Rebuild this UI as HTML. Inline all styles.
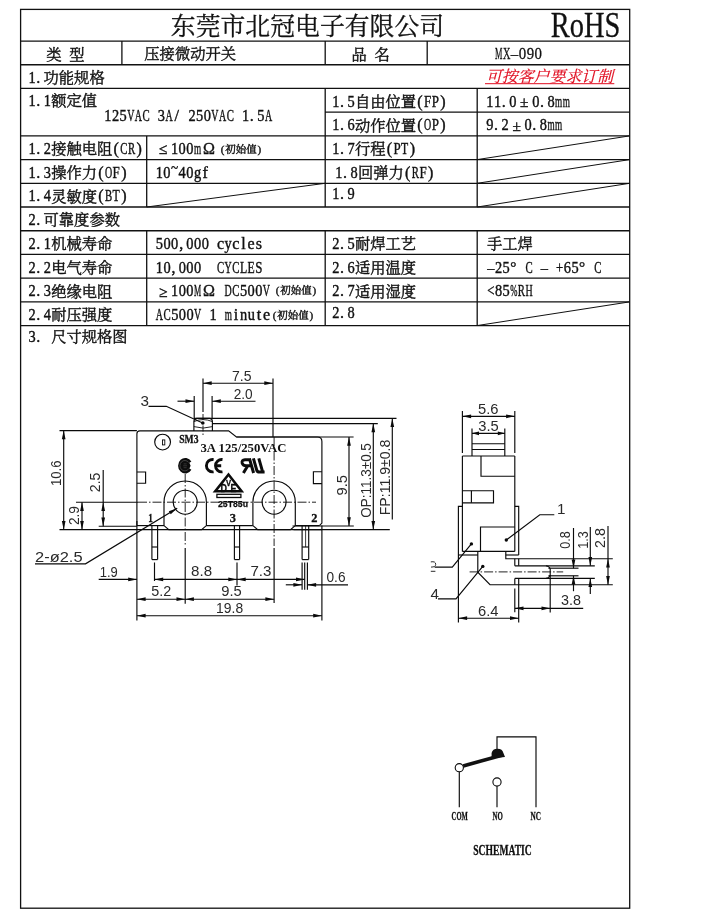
<!DOCTYPE html>
<html lang="zh"><head><meta charset="utf-8"><title>MX-090 压接微动开关 规格书</title>
<style>
html,body{margin:0;padding:0;background:#fff;}
body{width:720px;height:919px;overflow:hidden;font-family:"Liberation Serif",serif;}
svg{will-change:transform;}
svg text{white-space:pre;}
svg text.cjk{font-family:"Liberation Serif","Noto Serif CJK SC",serif;}
</style></head><body>
<svg width="720" height="919" viewBox="0 0 720 919" style="display:block">
<rect x="20.6" y="9.4" width="609.1" height="898.8" fill="none" stroke="#111" stroke-width="1.3"/>
<line x1="20.6" y1="41.05" x2="629.7" y2="41.05" stroke="#111" stroke-width="1.3"/>
<line x1="20.6" y1="64.76" x2="629.7" y2="64.76" stroke="#111" stroke-width="1.3"/>
<line x1="20.6" y1="88.47" x2="629.7" y2="88.47" stroke="#111" stroke-width="1.3"/>
<line x1="325" y1="112.18" x2="629.7" y2="112.18" stroke="#111" stroke-width="1.3"/>
<line x1="20.6" y1="135.89" x2="629.7" y2="135.89" stroke="#111" stroke-width="1.3"/>
<line x1="20.6" y1="159.6" x2="629.7" y2="159.6" stroke="#111" stroke-width="1.3"/>
<line x1="20.6" y1="183.31" x2="629.7" y2="183.31" stroke="#111" stroke-width="1.3"/>
<line x1="20.6" y1="207.02" x2="629.7" y2="207.02" stroke="#111" stroke-width="1.3"/>
<line x1="20.6" y1="230.73" x2="629.7" y2="230.73" stroke="#111" stroke-width="1.3"/>
<line x1="20.6" y1="254.44" x2="629.7" y2="254.44" stroke="#111" stroke-width="1.3"/>
<line x1="20.6" y1="278.15" x2="629.7" y2="278.15" stroke="#111" stroke-width="1.3"/>
<line x1="20.6" y1="301.86" x2="629.7" y2="301.86" stroke="#111" stroke-width="1.3"/>
<line x1="20.6" y1="325.57" x2="629.7" y2="325.57" stroke="#111" stroke-width="1.3"/>
<line x1="121.9" y1="41.05" x2="121.9" y2="64.76" stroke="#111" stroke-width="1.3"/>
<line x1="325.2" y1="41.05" x2="325.2" y2="64.76" stroke="#111" stroke-width="1.3"/>
<line x1="427.2" y1="41.05" x2="427.2" y2="64.76" stroke="#111" stroke-width="1.3"/>
<line x1="325.2" y1="88.47" x2="325.2" y2="207.02" stroke="#111" stroke-width="1.3"/>
<line x1="477.2" y1="88.47" x2="477.2" y2="207.02" stroke="#111" stroke-width="1.3"/>
<line x1="146.7" y1="135.89" x2="146.7" y2="207.02" stroke="#111" stroke-width="1.3"/>
<line x1="325.2" y1="230.73" x2="325.2" y2="325.57" stroke="#111" stroke-width="1.3"/>
<line x1="477.2" y1="230.73" x2="477.2" y2="325.57" stroke="#111" stroke-width="1.3"/>
<line x1="146.7" y1="230.73" x2="146.7" y2="325.57" stroke="#111" stroke-width="1.3"/>
<line x1="146.7" y1="207.02" x2="325.2" y2="183.31" stroke="#111" stroke-width="1.0"/>
<line x1="477.2" y1="159.6" x2="629.7" y2="135.89" stroke="#111" stroke-width="1.0"/>
<line x1="477.2" y1="183.31" x2="629.7" y2="159.6" stroke="#111" stroke-width="1.0"/>
<line x1="477.2" y1="207.02" x2="629.7" y2="183.31" stroke="#111" stroke-width="1.0"/>
<line x1="477.2" y1="325.57" x2="629.7" y2="301.86" stroke="#111" stroke-width="1.0"/>
<g fill="#111" stroke="#111" stroke-width="0.3"><desc>东莞市北冠电子有限公司</desc><text class="cjk" x="170.8" y="34.92" font-size="24.8" letter-spacing="0.05">东莞市北冠电子有限公司</text></g>
<text font-family="Liberation Serif" font-size="36" fill="#111" stroke="#111" stroke-width="0.3" transform="translate(550.8 37.3) scale(0.79 1)">RoHS</text>
<g fill="#111" stroke="#111" stroke-width="0.4"><desc>类 型</desc><text class="cjk" x="46.2 69.15" y="59.72" font-size="15.3">类型</text></g>
<g fill="#111" stroke="#111" stroke-width="0.4"><desc>压接微动开关</desc><text class="cjk" x="144.3" y="59.42" font-size="15.3">压接微动开关</text></g>
<g fill="#111" stroke="#111" stroke-width="0.4"><desc>品 名</desc><text class="cjk" x="351.6 374.55" y="59.72" font-size="15.3">品名</text></g>
<g fill="#111" stroke="#111" stroke-width="0.3"><desc>MX-090</desc><text font-family="Liberation Serif" font-size="16.59" text-anchor="middle" y="59.24"><tspan x="498.75" textLength="7.43" lengthAdjust="spacingAndGlyphs">M</tspan><tspan x="506.65" textLength="7.43" lengthAdjust="spacingAndGlyphs">X</tspan><tspan x="514.55" textLength="7.43" lengthAdjust="spacingAndGlyphs">–</tspan><tspan x="522.45" textLength="7.43" lengthAdjust="spacingAndGlyphs">0</tspan><tspan x="530.35" textLength="7.43" lengthAdjust="spacingAndGlyphs">9</tspan><tspan x="538.25" textLength="7.43" lengthAdjust="spacingAndGlyphs">0</tspan></text></g>
<g fill="#111" stroke="#111" stroke-width="0.4"><desc>1.功能规格</desc><text class="cjk" x="43.5" y="83.13" font-size="15.3">功能规格</text><text font-family="Liberation Serif" font-size="16.07" text-anchor="middle" y="82.82"><tspan x="32.02" textLength="7.19" lengthAdjust="spacingAndGlyphs">1</tspan><tspan x="38.3">.</tspan></text></g>
<g fill="#e00b1e" stroke="#e00b1e" stroke-width="0.2" transform="translate(485.5 83.77) skewX(-14) translate(-485.5 -83.77)"><desc>可按客户要求订制</desc><text class="cjk" x="485.5" y="81.86" font-size="15.9">可按客户要求订制</text></g>
<line x1="485" y1="83.7" x2="614.3" y2="83.7" stroke="#e00b1e" stroke-width="1.0"/>
<g fill="#111" stroke="#111" stroke-width="0.4"><desc>1.1额定值</desc><text class="cjk" x="51.15" y="105.93" font-size="15.3">额定值</text><text font-family="Liberation Serif" font-size="16.07" text-anchor="middle" y="105.63"><tspan x="32.02" textLength="7.19" lengthAdjust="spacingAndGlyphs">1</tspan><tspan x="38.3">.</tspan><tspan x="47.33" textLength="7.19" lengthAdjust="spacingAndGlyphs">1</tspan></text></g>
<g fill="#111" stroke="#111" stroke-width="0.4"><desc>125VAC 3A/ 250VAC 1.5A</desc><text font-family="Liberation Serif" font-size="16.07" text-anchor="middle" y="121.03"><tspan x="107.83" textLength="7.19" lengthAdjust="spacingAndGlyphs">1</tspan><tspan x="115.48" textLength="7.19" lengthAdjust="spacingAndGlyphs">2</tspan><tspan x="123.13" textLength="7.19" lengthAdjust="spacingAndGlyphs">5</tspan><tspan x="130.78" textLength="7.19" lengthAdjust="spacingAndGlyphs">V</tspan><tspan x="138.43" textLength="7.19" lengthAdjust="spacingAndGlyphs">A</tspan><tspan x="146.08" textLength="7.19" lengthAdjust="spacingAndGlyphs">C</tspan><tspan x="161.38" textLength="7.19" lengthAdjust="spacingAndGlyphs">3</tspan><tspan x="169.03" textLength="7.19" lengthAdjust="spacingAndGlyphs">A</tspan><tspan x="176.68">/</tspan><tspan x="191.98" textLength="7.19" lengthAdjust="spacingAndGlyphs">2</tspan><tspan x="199.63" textLength="7.19" lengthAdjust="spacingAndGlyphs">5</tspan><tspan x="207.28" textLength="7.19" lengthAdjust="spacingAndGlyphs">0</tspan><tspan x="214.93" textLength="7.19" lengthAdjust="spacingAndGlyphs">V</tspan><tspan x="222.58" textLength="7.19" lengthAdjust="spacingAndGlyphs">A</tspan><tspan x="230.23" textLength="7.19" lengthAdjust="spacingAndGlyphs">C</tspan><tspan x="245.53" textLength="7.19" lengthAdjust="spacingAndGlyphs">1</tspan><tspan x="251.8">.</tspan><tspan x="260.83" textLength="7.19" lengthAdjust="spacingAndGlyphs">5</tspan><tspan x="268.48" textLength="7.19" lengthAdjust="spacingAndGlyphs">A</tspan></text></g>
<g fill="#111" stroke="#111" stroke-width="0.4"><desc>1.5自由位置(FP)</desc><text class="cjk" x="354.95" y="106.84" font-size="15.3">自由位置</text><text font-family="Liberation Serif" font-size="16.07" text-anchor="middle" y="106.53"><tspan x="335.82" textLength="7.19" lengthAdjust="spacingAndGlyphs">1</tspan><tspan x="342.1">.</tspan><tspan x="351.12" textLength="7.19" lengthAdjust="spacingAndGlyphs">5</tspan><tspan x="419.97">(</tspan><tspan x="427.62" textLength="7.19" lengthAdjust="spacingAndGlyphs">F</tspan><tspan x="435.27" textLength="7.19" lengthAdjust="spacingAndGlyphs">P</tspan><tspan x="442.92">)</tspan></text></g>
<g fill="#111" stroke="#111" stroke-width="0.4"><desc>11.0±0.8mm</desc><text class="cjk" x="524.25" y="106.84" font-size="15.3" text-anchor="middle">±</text><text font-family="Liberation Serif" font-size="16.07" text-anchor="middle" y="106.53"><tspan x="489.82" textLength="7.19" lengthAdjust="spacingAndGlyphs">1</tspan><tspan x="497.47" textLength="7.19" lengthAdjust="spacingAndGlyphs">1</tspan><tspan x="503.75">.</tspan><tspan x="512.77" textLength="7.19" lengthAdjust="spacingAndGlyphs">0</tspan><tspan x="535.72" textLength="7.19" lengthAdjust="spacingAndGlyphs">0</tspan><tspan x="542">.</tspan><tspan x="551.02" textLength="7.19" lengthAdjust="spacingAndGlyphs">8</tspan><tspan x="558.67" textLength="7.19" lengthAdjust="spacingAndGlyphs">m</tspan><tspan x="566.32" textLength="7.19" lengthAdjust="spacingAndGlyphs">m</tspan></text></g>
<g fill="#111" stroke="#111" stroke-width="0.4"><desc>1.6动作位置(OP)</desc><text class="cjk" x="354.95" y="130.55" font-size="15.3">动作位置</text><text font-family="Liberation Serif" font-size="16.07" text-anchor="middle" y="130.24"><tspan x="335.82" textLength="7.19" lengthAdjust="spacingAndGlyphs">1</tspan><tspan x="342.1">.</tspan><tspan x="351.12" textLength="7.19" lengthAdjust="spacingAndGlyphs">6</tspan><tspan x="419.97">(</tspan><tspan x="427.62" textLength="7.19" lengthAdjust="spacingAndGlyphs">O</tspan><tspan x="435.27" textLength="7.19" lengthAdjust="spacingAndGlyphs">P</tspan><tspan x="442.92">)</tspan></text></g>
<g fill="#111" stroke="#111" stroke-width="0.4"><desc>9.2±0.8mm</desc><text class="cjk" x="516.6" y="130.55" font-size="15.3" text-anchor="middle">±</text><text font-family="Liberation Serif" font-size="16.07" text-anchor="middle" y="130.24"><tspan x="489.82" textLength="7.19" lengthAdjust="spacingAndGlyphs">9</tspan><tspan x="496.1">.</tspan><tspan x="505.12" textLength="7.19" lengthAdjust="spacingAndGlyphs">2</tspan><tspan x="528.07" textLength="7.19" lengthAdjust="spacingAndGlyphs">0</tspan><tspan x="534.35">.</tspan><tspan x="543.37" textLength="7.19" lengthAdjust="spacingAndGlyphs">8</tspan><tspan x="551.02" textLength="7.19" lengthAdjust="spacingAndGlyphs">m</tspan><tspan x="558.67" textLength="7.19" lengthAdjust="spacingAndGlyphs">m</tspan></text></g>
<g fill="#111" stroke="#111" stroke-width="0.4"><desc>1.2接触电阻(CR)</desc><text class="cjk" x="51.15" y="154.26" font-size="15.3">接触电阻</text><text font-family="Liberation Serif" font-size="16.07" text-anchor="middle" y="153.95"><tspan x="32.02" textLength="7.19" lengthAdjust="spacingAndGlyphs">1</tspan><tspan x="38.3">.</tspan><tspan x="47.33" textLength="7.19" lengthAdjust="spacingAndGlyphs">2</tspan><tspan x="116.17">(</tspan><tspan x="123.83" textLength="7.19" lengthAdjust="spacingAndGlyphs">C</tspan><tspan x="131.47" textLength="7.19" lengthAdjust="spacingAndGlyphs">R</tspan><tspan x="139.12">)</tspan></text></g>
<g fill="#111" stroke="#111" stroke-width="0.4"><desc>≤100mΩ</desc><text class="cjk" x="163.05" y="154.26" font-size="15.3" text-anchor="middle">≤</text><text font-family="Liberation Serif" font-size="16.07" text-anchor="middle" y="153.95"><tspan x="174.53" textLength="7.19" lengthAdjust="spacingAndGlyphs">1</tspan><tspan x="182.18" textLength="7.19" lengthAdjust="spacingAndGlyphs">0</tspan><tspan x="189.83" textLength="7.19" lengthAdjust="spacingAndGlyphs">0</tspan><tspan x="197.48" textLength="7.19" lengthAdjust="spacingAndGlyphs">m</tspan><tspan x="208.95">Ω</tspan></text></g>
<g fill="#111" stroke="#111" stroke-width="0.4"><desc>(初始值)</desc><text class="cjk" x="225.25" y="153.03" font-size="10.5">初始值</text><text font-family="Liberation Serif" font-size="11.03" text-anchor="middle" y="152.82"><tspan x="222.62 259.38">()</tspan></text></g>
<g fill="#111" stroke="#111" stroke-width="0.4"><desc>1.7行程(PT)</desc><text class="cjk" x="354.95" y="154.26" font-size="15.3">行程</text><text font-family="Liberation Serif" font-size="16.07" text-anchor="middle" y="153.95"><tspan x="335.82" textLength="7.19" lengthAdjust="spacingAndGlyphs">1</tspan><tspan x="342.1">.</tspan><tspan x="351.12" textLength="7.19" lengthAdjust="spacingAndGlyphs">7</tspan><tspan x="389.37">(</tspan><tspan x="397.02" textLength="7.19" lengthAdjust="spacingAndGlyphs">P</tspan><tspan x="404.67" textLength="7.19" lengthAdjust="spacingAndGlyphs">T</tspan><tspan x="412.32">)</tspan></text></g>
<g fill="#111" stroke="#111" stroke-width="0.4"><desc>1.3操作力(OF)</desc><text class="cjk" x="51.15" y="177.97" font-size="15.3">操作力</text><text font-family="Liberation Serif" font-size="16.07" text-anchor="middle" y="177.66"><tspan x="32.02" textLength="7.19" lengthAdjust="spacingAndGlyphs">1</tspan><tspan x="38.3">.</tspan><tspan x="47.33" textLength="7.19" lengthAdjust="spacingAndGlyphs">3</tspan><tspan x="100.88">(</tspan><tspan x="108.53" textLength="7.19" lengthAdjust="spacingAndGlyphs">O</tspan><tspan x="116.18" textLength="7.19" lengthAdjust="spacingAndGlyphs">F</tspan><tspan x="123.83">)</tspan></text></g>
<g fill="#111" stroke="#111" stroke-width="0.4"><desc>10~40gf</desc><text font-family="Liberation Serif" font-size="16.07" text-anchor="middle" y="177.66"><tspan x="159.22" textLength="7.19" lengthAdjust="spacingAndGlyphs">1</tspan><tspan x="166.88" textLength="7.19" lengthAdjust="spacingAndGlyphs">0</tspan><tspan x="174.53" y="172.66" textLength="7.19" lengthAdjust="spacingAndGlyphs">~</tspan><tspan x="182.18" y="177.66" textLength="7.19" lengthAdjust="spacingAndGlyphs">4</tspan><tspan x="189.83" textLength="7.19" lengthAdjust="spacingAndGlyphs">0</tspan><tspan x="197.48" textLength="7.19" lengthAdjust="spacingAndGlyphs">g</tspan><tspan x="205.13">f</tspan></text></g>
<g fill="#111" stroke="#111" stroke-width="0.4"><desc>1.8回弹力(RF)</desc><text class="cjk" x="357.95" y="177.97" font-size="15.3">回弹力</text><text font-family="Liberation Serif" font-size="16.07" text-anchor="middle" y="177.66"><tspan x="338.82" textLength="7.19" lengthAdjust="spacingAndGlyphs">1</tspan><tspan x="345.1">.</tspan><tspan x="354.12" textLength="7.19" lengthAdjust="spacingAndGlyphs">8</tspan><tspan x="407.67">(</tspan><tspan x="415.32" textLength="7.19" lengthAdjust="spacingAndGlyphs">R</tspan><tspan x="422.97" textLength="7.19" lengthAdjust="spacingAndGlyphs">F</tspan><tspan x="430.62">)</tspan></text></g>
<g fill="#111" stroke="#111" stroke-width="0.4"><desc>1.4灵敏度(BT)</desc><text class="cjk" x="51.15" y="201.68" font-size="15.3">灵敏度</text><text font-family="Liberation Serif" font-size="16.07" text-anchor="middle" y="201.37"><tspan x="32.02" textLength="7.19" lengthAdjust="spacingAndGlyphs">1</tspan><tspan x="38.3">.</tspan><tspan x="47.33" textLength="7.19" lengthAdjust="spacingAndGlyphs">4</tspan><tspan x="100.88">(</tspan><tspan x="108.53" textLength="7.19" lengthAdjust="spacingAndGlyphs">B</tspan><tspan x="116.18" textLength="7.19" lengthAdjust="spacingAndGlyphs">T</tspan><tspan x="123.83">)</tspan></text></g>
<g fill="#111" stroke="#111" stroke-width="0.4"><desc>1.9</desc><text font-family="Liberation Serif" font-size="16.07" text-anchor="middle" y="199.37"><tspan x="335.82" textLength="7.19" lengthAdjust="spacingAndGlyphs">1</tspan><tspan x="342.1">.</tspan><tspan x="351.12" textLength="7.19" lengthAdjust="spacingAndGlyphs">9</tspan></text></g>
<g fill="#111" stroke="#111" stroke-width="0.4"><desc>2.可靠度参数</desc><text class="cjk" x="43.5" y="225.39" font-size="15.3">可靠度参数</text><text font-family="Liberation Serif" font-size="16.07" text-anchor="middle" y="225.08"><tspan x="32.02" textLength="7.19" lengthAdjust="spacingAndGlyphs">2</tspan><tspan x="38.3">.</tspan></text></g>
<g fill="#111" stroke="#111" stroke-width="0.4"><desc>2.1机械寿命</desc><text class="cjk" x="51.15" y="249.1" font-size="15.3">机械寿命</text><text font-family="Liberation Serif" font-size="16.07" text-anchor="middle" y="248.79"><tspan x="32.02" textLength="7.19" lengthAdjust="spacingAndGlyphs">2</tspan><tspan x="38.3">.</tspan><tspan x="47.33" textLength="7.19" lengthAdjust="spacingAndGlyphs">1</tspan></text></g>
<g fill="#111" stroke="#111" stroke-width="0.4"><desc>500,000 cycles</desc><text font-family="Liberation Serif" font-size="16.07" text-anchor="middle" y="248.79"><tspan x="159.32" textLength="7.19" lengthAdjust="spacingAndGlyphs">5</tspan><tspan x="166.97" textLength="7.19" lengthAdjust="spacingAndGlyphs">0</tspan><tspan x="174.62" textLength="7.19" lengthAdjust="spacingAndGlyphs">0</tspan><tspan x="181.2">,</tspan><tspan x="189.93" textLength="7.19" lengthAdjust="spacingAndGlyphs">0</tspan><tspan x="197.58" textLength="7.19" lengthAdjust="spacingAndGlyphs">0</tspan><tspan x="205.23" textLength="7.19" lengthAdjust="spacingAndGlyphs">0</tspan><tspan x="220.53">c</tspan><tspan x="228.18" textLength="7.19" lengthAdjust="spacingAndGlyphs">y</tspan><tspan x="235.83 243.48 251.13 258.78">cles</tspan></text></g>
<g fill="#111" stroke="#111" stroke-width="0.4"><desc>2.5耐焊工艺</desc><text class="cjk" x="354.95" y="249.1" font-size="15.3">耐焊工艺</text><text font-family="Liberation Serif" font-size="16.07" text-anchor="middle" y="248.79"><tspan x="335.82" textLength="7.19" lengthAdjust="spacingAndGlyphs">2</tspan><tspan x="342.1">.</tspan><tspan x="351.12" textLength="7.19" lengthAdjust="spacingAndGlyphs">5</tspan></text></g>
<g fill="#111" stroke="#111" stroke-width="0.4"><desc>手工焊</desc><text class="cjk" x="487" y="249.1" font-size="15.3">手工焊</text></g>
<g fill="#111" stroke="#111" stroke-width="0.4"><desc>2.2电气寿命</desc><text class="cjk" x="51.15" y="272.81" font-size="15.3">电气寿命</text><text font-family="Liberation Serif" font-size="16.07" text-anchor="middle" y="272.5"><tspan x="32.02" textLength="7.19" lengthAdjust="spacingAndGlyphs">2</tspan><tspan x="38.3">.</tspan><tspan x="47.33" textLength="7.19" lengthAdjust="spacingAndGlyphs">2</tspan></text></g>
<g fill="#111" stroke="#111" stroke-width="0.4"><desc>10,000  CYCLES</desc><text font-family="Liberation Serif" font-size="16.07" text-anchor="middle" y="272.5"><tspan x="159.32" textLength="7.19" lengthAdjust="spacingAndGlyphs">1</tspan><tspan x="166.97" textLength="7.19" lengthAdjust="spacingAndGlyphs">0</tspan><tspan x="173.55">,</tspan><tspan x="182.28" textLength="7.19" lengthAdjust="spacingAndGlyphs">0</tspan><tspan x="189.93" textLength="7.19" lengthAdjust="spacingAndGlyphs">0</tspan><tspan x="197.58" textLength="7.19" lengthAdjust="spacingAndGlyphs">0</tspan><tspan x="220.53" textLength="7.19" lengthAdjust="spacingAndGlyphs">C</tspan><tspan x="228.18" textLength="7.19" lengthAdjust="spacingAndGlyphs">Y</tspan><tspan x="235.83" textLength="7.19" lengthAdjust="spacingAndGlyphs">C</tspan><tspan x="243.48" textLength="7.19" lengthAdjust="spacingAndGlyphs">L</tspan><tspan x="251.13" textLength="7.19" lengthAdjust="spacingAndGlyphs">E</tspan><tspan x="258.78" textLength="7.19" lengthAdjust="spacingAndGlyphs">S</tspan></text></g>
<g fill="#111" stroke="#111" stroke-width="0.4"><desc>2.6适用温度</desc><text class="cjk" x="354.95" y="272.81" font-size="15.3">适用温度</text><text font-family="Liberation Serif" font-size="16.07" text-anchor="middle" y="272.5"><tspan x="335.82" textLength="7.19" lengthAdjust="spacingAndGlyphs">2</tspan><tspan x="342.1">.</tspan><tspan x="351.12" textLength="7.19" lengthAdjust="spacingAndGlyphs">6</tspan></text></g>
<g fill="#111" stroke="#111" stroke-width="0.4"><desc>-25°C - +65°C</desc><text font-family="Liberation Serif" font-size="16.07" text-anchor="middle" y="272.5"><tspan x="490.82" textLength="7.19" lengthAdjust="spacingAndGlyphs">–</tspan><tspan x="498.47" textLength="7.19" lengthAdjust="spacingAndGlyphs">2</tspan><tspan x="506.12" textLength="7.19" lengthAdjust="spacingAndGlyphs">5</tspan><tspan x="513.32" y="272" font-size="15.27">°</tspan><tspan x="529.07" y="272.5" textLength="7.19" lengthAdjust="spacingAndGlyphs">C</tspan><tspan x="544.37" textLength="7.19" lengthAdjust="spacingAndGlyphs">–</tspan><tspan x="559.67" textLength="7.19" lengthAdjust="spacingAndGlyphs">+</tspan><tspan x="567.32" textLength="7.19" lengthAdjust="spacingAndGlyphs">6</tspan><tspan x="574.97" textLength="7.19" lengthAdjust="spacingAndGlyphs">5</tspan><tspan x="582.17" y="272" font-size="15.27">°</tspan><tspan x="597.92" y="272.5" textLength="7.19" lengthAdjust="spacingAndGlyphs">C</tspan></text></g>
<g fill="#111" stroke="#111" stroke-width="0.4"><desc>2.3绝缘电阻</desc><text class="cjk" x="51.15" y="296.52" font-size="15.3">绝缘电阻</text><text font-family="Liberation Serif" font-size="16.07" text-anchor="middle" y="296.21"><tspan x="32.02" textLength="7.19" lengthAdjust="spacingAndGlyphs">2</tspan><tspan x="38.3">.</tspan><tspan x="47.33" textLength="7.19" lengthAdjust="spacingAndGlyphs">3</tspan></text></g>
<g fill="#111" stroke="#111" stroke-width="0.4"><desc>≥100MΩ DC500V</desc><text class="cjk" x="163.15" y="296.52" font-size="15.3" text-anchor="middle">≥</text><text font-family="Liberation Serif" font-size="16.07" text-anchor="middle" y="296.21"><tspan x="174.62" textLength="7.19" lengthAdjust="spacingAndGlyphs">1</tspan><tspan x="182.28" textLength="7.19" lengthAdjust="spacingAndGlyphs">0</tspan><tspan x="189.93" textLength="7.19" lengthAdjust="spacingAndGlyphs">0</tspan><tspan x="197.58" textLength="7.19" lengthAdjust="spacingAndGlyphs">M</tspan><tspan x="209.05">Ω</tspan><tspan x="228.18" textLength="7.19" lengthAdjust="spacingAndGlyphs">D</tspan><tspan x="235.83" textLength="7.19" lengthAdjust="spacingAndGlyphs">C</tspan><tspan x="243.48" textLength="7.19" lengthAdjust="spacingAndGlyphs">5</tspan><tspan x="251.13" textLength="7.19" lengthAdjust="spacingAndGlyphs">0</tspan><tspan x="258.78" textLength="7.19" lengthAdjust="spacingAndGlyphs">0</tspan><tspan x="266.43" textLength="7.19" lengthAdjust="spacingAndGlyphs">V</tspan></text></g>
<g fill="#111" stroke="#111" stroke-width="0.4"><desc>(初始值)</desc><text class="cjk" x="280.25" y="294.3" font-size="10.5">初始值</text><text font-family="Liberation Serif" font-size="11.03" text-anchor="middle" y="294.08"><tspan x="277.62 314.38">()</tspan></text></g>
<g fill="#111" stroke="#111" stroke-width="0.4"><desc>2.7适用湿度</desc><text class="cjk" x="354.95" y="296.52" font-size="15.3">适用湿度</text><text font-family="Liberation Serif" font-size="16.07" text-anchor="middle" y="296.21"><tspan x="335.82" textLength="7.19" lengthAdjust="spacingAndGlyphs">2</tspan><tspan x="342.1">.</tspan><tspan x="351.12" textLength="7.19" lengthAdjust="spacingAndGlyphs">7</tspan></text></g>
<g fill="#111" stroke="#111" stroke-width="0.4"><desc>&lt;85%RH</desc><text font-family="Liberation Serif" font-size="16.07" text-anchor="middle" y="296.21"><tspan x="490.82" textLength="7.19" lengthAdjust="spacingAndGlyphs">&lt;</tspan><tspan x="498.47" textLength="7.19" lengthAdjust="spacingAndGlyphs">8</tspan><tspan x="506.12" textLength="7.19" lengthAdjust="spacingAndGlyphs">5</tspan><tspan x="513.77" textLength="7.19" lengthAdjust="spacingAndGlyphs">%</tspan><tspan x="521.42" textLength="7.19" lengthAdjust="spacingAndGlyphs">R</tspan><tspan x="529.07" textLength="7.19" lengthAdjust="spacingAndGlyphs">H</tspan></text></g>
<g fill="#111" stroke="#111" stroke-width="0.4"><desc>2.4耐压强度</desc><text class="cjk" x="51.15" y="320.23" font-size="15.3">耐压强度</text><text font-family="Liberation Serif" font-size="16.07" text-anchor="middle" y="319.92"><tspan x="32.02" textLength="7.19" lengthAdjust="spacingAndGlyphs">2</tspan><tspan x="38.3">.</tspan><tspan x="47.33" textLength="7.19" lengthAdjust="spacingAndGlyphs">4</tspan></text></g>
<g fill="#111" stroke="#111" stroke-width="0.4"><desc>AC500V 1 minute</desc><text font-family="Liberation Serif" font-size="16.07" text-anchor="middle" y="319.92"><tspan x="159.42" textLength="7.19" lengthAdjust="spacingAndGlyphs">A</tspan><tspan x="167.07" textLength="7.19" lengthAdjust="spacingAndGlyphs">C</tspan><tspan x="174.72" textLength="7.19" lengthAdjust="spacingAndGlyphs">5</tspan><tspan x="182.38" textLength="7.19" lengthAdjust="spacingAndGlyphs">0</tspan><tspan x="190.03" textLength="7.19" lengthAdjust="spacingAndGlyphs">0</tspan><tspan x="197.68" textLength="7.19" lengthAdjust="spacingAndGlyphs">V</tspan><tspan x="212.98" textLength="7.19" lengthAdjust="spacingAndGlyphs">1</tspan><tspan x="228.28" textLength="7.19" lengthAdjust="spacingAndGlyphs">m</tspan><tspan x="235.93">i</tspan><tspan x="243.58" textLength="7.19" lengthAdjust="spacingAndGlyphs">n</tspan><tspan x="251.23" textLength="7.19" lengthAdjust="spacingAndGlyphs">u</tspan><tspan x="258.88 266.53">te</tspan></text></g>
<g fill="#111" stroke="#111" stroke-width="0.4"><desc>(初始值)</desc><text class="cjk" x="277.25" y="319.01" font-size="10.5">初始值</text><text font-family="Liberation Serif" font-size="11.03" text-anchor="middle" y="318.8"><tspan x="274.62 311.38">()</tspan></text></g>
<g fill="#111" stroke="#111" stroke-width="0.4"><desc>2.8</desc><text font-family="Liberation Serif" font-size="16.07" text-anchor="middle" y="317.92"><tspan x="335.82" textLength="7.19" lengthAdjust="spacingAndGlyphs">2</tspan><tspan x="342.1">.</tspan><tspan x="351.12" textLength="7.19" lengthAdjust="spacingAndGlyphs">8</tspan></text></g>
<g fill="#111" stroke="#111" stroke-width="0.4"><desc>3. 尺寸规格图</desc><text class="cjk" x="51.15" y="341.86" font-size="15.3">尺寸规格图</text><text font-family="Liberation Serif" font-size="16.07" text-anchor="middle" y="341.56"><tspan x="32.02" textLength="7.19" lengthAdjust="spacingAndGlyphs">3</tspan><tspan x="38.3">.</tspan></text></g>
<path d="M136.9 525.6 L136.9 433.8 Q136.9 430.8 139.9 430.8 L228.6 430.8 L236.4 437.0 L317.4 437.0 Q321.9 437.0 321.9 441.5 L321.9 523.1 L319.4 525.6" fill="none" stroke="#0a0a0a" stroke-width="1.15"/>
<line x1="136.9" y1="525.6" x2="164" y2="525.6" stroke="#0a0a0a" stroke-width="1.15"/>
<line x1="206.4" y1="525.6" x2="252.8" y2="525.6" stroke="#0a0a0a" stroke-width="1.15"/>
<line x1="295.3" y1="525.6" x2="319.4" y2="525.6" stroke="#0a0a0a" stroke-width="1.15"/>
<path d="M136.9 472 L145.6 472 L145.6 483.2 L136.9 483.2" fill="none" stroke="#0a0a0a" stroke-width="1.15"/>
<path d="M321.9 471.7 L313.4 471.7 L313.4 483.6 L321.9 483.6" fill="none" stroke="#0a0a0a" stroke-width="1.15"/>
<path d="M164 525.6 L164 502.2 A21.2 21.2 0 0 1 206.4 502.2 L206.4 525.6 L201.6 529.6 L168.8 529.6 Z" fill="none" stroke="#0a0a0a" stroke-width="1.15"/>
<circle cx="185.2" cy="502.2" r="12" fill="none" stroke="#0a0a0a" stroke-width="1.15"/>
<path d="M252.9 525.6 L252.9 502.2 A21.2 21.2 0 0 1 295.3 502.2 L295.3 525.6 L290.5 529.6 L257.7 529.6 Z" fill="none" stroke="#0a0a0a" stroke-width="1.15"/>
<circle cx="274.1" cy="502.2" r="12" fill="none" stroke="#0a0a0a" stroke-width="1.15"/>
<circle cx="162.6" cy="442.1" r="7.9" fill="none" stroke="#0a0a0a" stroke-width="1.15"/>
<rect x="162.5" y="439.9" width="2.3" height="5" fill="none" stroke="#0a0a0a" stroke-width="0.9"/>
<path d="M193.9 431 L193.9 421.5 Q193.9 418.6 197 418.4 L209.5 418.4 Q212.4 418.6 212.4 421.5 L212.4 431" fill="none" stroke="#0a0a0a" stroke-width="1.15"/>
<path d="M193.9 421.6 Q203 417.5 212.4 421.6" fill="none" stroke="#0a0a0a" stroke-width="0.9"/>
<path d="M193.9 426.6 Q203 429.6 212.4 426.6" fill="none" stroke="#0a0a0a" stroke-width="0.9"/>
<line x1="194" y1="418.4" x2="396.5" y2="418.4" stroke="#0a0a0a" stroke-width="1.15"/>
<line x1="212.4" y1="423.6" x2="377.8" y2="423.6" stroke="#0a0a0a" stroke-width="1.15"/>
<line x1="236.4" y1="437" x2="353.6" y2="437" stroke="#0a0a0a" stroke-width="1.15"/>
<line x1="76" y1="502.2" x2="138" y2="502.2" stroke="#0a0a0a" stroke-width="1.15"/>
<line x1="138" y1="502.2" x2="316" y2="502.2" stroke="#0a0a0a" stroke-width="0.9" stroke-dasharray="9 2 1.5 2"/>
<line x1="185.2" y1="474" x2="185.2" y2="546" stroke="#0a0a0a" stroke-width="0.9" stroke-dasharray="9 2 1.5 2"/>
<line x1="185.2" y1="548" x2="185.2" y2="603.8" stroke="#0a0a0a" stroke-width="1.15"/>
<line x1="274.1" y1="437" x2="274.1" y2="546" stroke="#0a0a0a" stroke-width="0.9" stroke-dasharray="9 2 1.5 2"/>
<line x1="274.1" y1="548" x2="274.1" y2="603" stroke="#0a0a0a" stroke-width="1.15"/>
<line x1="203" y1="378.5" x2="203" y2="412" stroke="#0a0a0a" stroke-width="1.15"/>
<line x1="203" y1="414" x2="203" y2="437" stroke="#0a0a0a" stroke-width="0.9" stroke-dasharray="6 2 1.5 2"/>
<line x1="273" y1="378.5" x2="273" y2="437" stroke="#0a0a0a" stroke-width="1.15"/>
<line x1="203" y1="383.2" x2="273" y2="383.2" stroke="#0a0a0a" stroke-width="1.15"/>
<polygon points="203,383.2 211.7,381.35 211.7,385.05" fill="#0a0a0a"/>
<polygon points="273,383.2 264.3,385.05 264.3,381.35" fill="#0a0a0a"/>
<text font-family="Liberation Sans" font-size="15.2" fill="#2a2a2a" text-anchor="middle" textLength="19.5" lengthAdjust="spacingAndGlyphs" transform="translate(241.7 381.3)">7.5</text>
<line x1="194.2" y1="396" x2="194.2" y2="418.4" stroke="#0a0a0a" stroke-width="1.15"/>
<line x1="212.1" y1="396" x2="212.1" y2="418.4" stroke="#0a0a0a" stroke-width="1.15"/>
<line x1="177.5" y1="401.2" x2="194.2" y2="401.2" stroke="#0a0a0a" stroke-width="1.15"/>
<polygon points="194.2,401.2 185.5,403.05 185.5,399.35" fill="#0a0a0a"/>
<line x1="212.1" y1="401.2" x2="255.5" y2="401.2" stroke="#0a0a0a" stroke-width="1.15"/>
<polygon points="212.1,401.2 220.8,399.35 220.8,403.05" fill="#0a0a0a"/>
<text font-family="Liberation Sans" font-size="15.2" fill="#2a2a2a" text-anchor="middle" textLength="19" lengthAdjust="spacingAndGlyphs" transform="translate(243.2 399.3)">2.0</text>
<text font-family="Liberation Sans" font-size="15.2" fill="#2a2a2a" text-anchor="middle" transform="translate(144.6 405.6)">3</text>
<polyline points="148.5,406.3 166.3,406.3 202.6,423" fill="none" stroke="#0a0a0a" stroke-width="1.15"/>
<circle cx="202.8" cy="423" r="1.8" fill="#0a0a0a" stroke="#0a0a0a" stroke-width="0"/>
<line x1="59.5" y1="430.6" x2="136.9" y2="430.6" stroke="#0a0a0a" stroke-width="1.15"/>
<line x1="59.5" y1="529.6" x2="322" y2="529.6" stroke="#0a0a0a" stroke-width="1.15"/>
<line x1="293.5" y1="529.6" x2="389.8" y2="529.6" stroke="#0a0a0a" stroke-width="1.15"/>
<line x1="98.7" y1="526.2" x2="136.9" y2="526.2" stroke="#0a0a0a" stroke-width="1.15"/>
<line x1="63.7" y1="430.6" x2="63.7" y2="529.6" stroke="#0a0a0a" stroke-width="1.15"/>
<polygon points="63.7,430.6 65.55,439.3 61.85,439.3" fill="#0a0a0a"/>
<polygon points="63.7,529.6 61.85,520.9 65.55,520.9" fill="#0a0a0a"/>
<text font-family="Liberation Sans" font-size="15.2" fill="#2a2a2a" text-anchor="middle" textLength="25.5" lengthAdjust="spacingAndGlyphs" transform="translate(61 473.2) rotate(-90)">10.6</text>
<line x1="103.2" y1="470" x2="103.2" y2="526.2" stroke="#0a0a0a" stroke-width="1.15"/>
<polygon points="103.2,502.2 105.05,510.9 101.35,510.9" fill="#0a0a0a"/>
<polygon points="103.2,526.2 101.35,517.5 105.05,517.5" fill="#0a0a0a"/>
<text font-family="Liberation Sans" font-size="15.2" fill="#2a2a2a" text-anchor="middle" textLength="19.5" lengthAdjust="spacingAndGlyphs" transform="translate(100.2 482.4) rotate(-90)">2.5</text>
<line x1="82" y1="502.2" x2="82" y2="529.6" stroke="#0a0a0a" stroke-width="1.15"/>
<polygon points="82,502.2 83.85,510.9 80.15,510.9" fill="#0a0a0a"/>
<polygon points="82,529.6 80.15,520.9 83.85,520.9" fill="#0a0a0a"/>
<text font-family="Liberation Sans" font-size="15.2" fill="#2a2a2a" text-anchor="middle" textLength="19" lengthAdjust="spacingAndGlyphs" transform="translate(78.5 515.6) rotate(-90)">2.9</text>
<text font-family="Liberation Sans" font-size="15.2" fill="#2a2a2a" text-anchor="middle" textLength="47.5" lengthAdjust="spacingAndGlyphs" transform="translate(58.8 562)">2-ø2.5</text>
<polyline points="35,563.8 85.5,563.8 177.2,508.2" fill="none" stroke="#0a0a0a" stroke-width="1.15"/>
<polygon points="177.2,508.2 170.72,514.29 168.8,511.13" fill="#0a0a0a"/>
<line x1="292.5" y1="526" x2="353.8" y2="526" stroke="#0a0a0a" stroke-width="1.15"/>
<line x1="349" y1="437" x2="349" y2="526" stroke="#0a0a0a" stroke-width="1.15"/>
<polygon points="349,437 350.85,445.7 347.15,445.7" fill="#0a0a0a"/>
<polygon points="349,526 347.15,517.3 350.85,517.3" fill="#0a0a0a"/>
<text font-family="Liberation Sans" font-size="15.2" fill="#2a2a2a" text-anchor="middle" textLength="20.5" lengthAdjust="spacingAndGlyphs" transform="translate(346.8 485.2) rotate(-90)">9.5</text>
<line x1="373.3" y1="423.6" x2="373.3" y2="529.6" stroke="#0a0a0a" stroke-width="1.15"/>
<polygon points="373.3,423.6 375.15,432.3 371.45,432.3" fill="#0a0a0a"/>
<polygon points="373.3,529.6 371.45,520.9 375.15,520.9" fill="#0a0a0a"/>
<text font-family="Liberation Sans" font-size="15.2" fill="#2a2a2a" text-anchor="middle" textLength="74.5" lengthAdjust="spacingAndGlyphs" transform="translate(370.6 480.4) rotate(-90)">OP:11.3±0.5</text>
<line x1="392.3" y1="418.4" x2="392.3" y2="519.5" stroke="#0a0a0a" stroke-width="1.15"/>
<polygon points="392.3,418.4 394.15,427.1 390.45,427.1" fill="#0a0a0a"/>
<text font-family="Liberation Sans" font-size="15.2" fill="#2a2a2a" text-anchor="middle" textLength="75.5" lengthAdjust="spacingAndGlyphs" transform="translate(389.8 477.5) rotate(-90)">FP:11.9±0.8</text>
<line x1="151.9" y1="525.6" x2="151.9" y2="559.6" stroke="#0a0a0a" stroke-width="1.15"/>
<line x1="157.6" y1="525.6" x2="157.6" y2="559.6" stroke="#0a0a0a" stroke-width="1.15"/>
<line x1="151.9" y1="559.6" x2="157.6" y2="559.6" stroke="#0a0a0a" stroke-width="1.15"/>
<line x1="151.9" y1="547" x2="157.6" y2="547" stroke="#0a0a0a" stroke-width="1.15"/>
<line x1="234.4" y1="525.6" x2="234.4" y2="559.6" stroke="#0a0a0a" stroke-width="1.15"/>
<line x1="239.6" y1="525.6" x2="239.6" y2="559.6" stroke="#0a0a0a" stroke-width="1.15"/>
<line x1="234.4" y1="559.6" x2="239.6" y2="559.6" stroke="#0a0a0a" stroke-width="1.15"/>
<line x1="234.4" y1="547" x2="239.6" y2="547" stroke="#0a0a0a" stroke-width="1.15"/>
<line x1="302.1" y1="525.6" x2="302.1" y2="559.6" stroke="#0a0a0a" stroke-width="1.15"/>
<line x1="308.7" y1="525.6" x2="308.7" y2="559.6" stroke="#0a0a0a" stroke-width="1.15"/>
<line x1="302.1" y1="559.6" x2="308.7" y2="559.6" stroke="#0a0a0a" stroke-width="1.15"/>
<line x1="302.1" y1="547" x2="308.7" y2="547" stroke="#0a0a0a" stroke-width="1.15"/>
<line x1="305.6" y1="525.6" x2="305.6" y2="547" stroke="#0a0a0a" stroke-width="0.8"/>
<line x1="154.5" y1="562.5" x2="154.5" y2="581" stroke="#0a0a0a" stroke-width="1.15"/>
<line x1="237" y1="562.5" x2="237" y2="585.5" stroke="#0a0a0a" stroke-width="1.15"/>
<line x1="302.1" y1="562.5" x2="302.1" y2="589.8" stroke="#0a0a0a" stroke-width="1.15"/>
<line x1="304.7" y1="562.5" x2="304.7" y2="589.8" stroke="#0a0a0a" stroke-width="1.15"/>
<line x1="307.4" y1="562.5" x2="307.4" y2="589.8" stroke="#0a0a0a" stroke-width="1.15"/>
<line x1="136.9" y1="521" x2="136.9" y2="620.5" stroke="#0a0a0a" stroke-width="1.15"/>
<line x1="321.9" y1="525.6" x2="321.9" y2="620.5" stroke="#0a0a0a" stroke-width="1.15"/>
<line x1="98.7" y1="579.4" x2="136.9" y2="579.4" stroke="#0a0a0a" stroke-width="1.15"/>
<polygon points="136.9,579.4 128.2,581.25 128.2,577.55" fill="#0a0a0a"/>
<text font-family="Liberation Sans" font-size="15.2" fill="#2a2a2a" text-anchor="middle" textLength="18" lengthAdjust="spacingAndGlyphs" transform="translate(108.8 577.2)">1.9</text>
<line x1="154.5" y1="579.4" x2="304.7" y2="579.4" stroke="#0a0a0a" stroke-width="1.15"/>
<polygon points="154.5,579.4 163.2,577.55 163.2,581.25" fill="#0a0a0a"/>
<polygon points="237,579.4 228.3,581.25 228.3,577.55" fill="#0a0a0a"/>
<polygon points="237,579.4 245.7,577.55 245.7,581.25" fill="#0a0a0a"/>
<polygon points="304.7,579.4 296,581.25 296,577.55" fill="#0a0a0a"/>
<text font-family="Liberation Sans" font-size="15.2" fill="#2a2a2a" text-anchor="middle" textLength="21" lengthAdjust="spacingAndGlyphs" transform="translate(201.6 576.3)">8.8</text>
<text font-family="Liberation Sans" font-size="15.2" fill="#2a2a2a" text-anchor="middle" textLength="21" lengthAdjust="spacingAndGlyphs" transform="translate(260.9 576.3)">7.3</text>
<line x1="136.9" y1="599.2" x2="274.1" y2="599.2" stroke="#0a0a0a" stroke-width="1.15"/>
<polygon points="136.9,599.2 145.6,597.35 145.6,601.05" fill="#0a0a0a"/>
<polygon points="185.2,599.2 176.5,601.05 176.5,597.35" fill="#0a0a0a"/>
<polygon points="185.2,599.2 193.9,597.35 193.9,601.05" fill="#0a0a0a"/>
<polygon points="274.1,599.2 265.4,601.05 265.4,597.35" fill="#0a0a0a"/>
<text font-family="Liberation Sans" font-size="15.2" fill="#2a2a2a" text-anchor="middle" textLength="20" lengthAdjust="spacingAndGlyphs" transform="translate(161.2 596.3)">5.2</text>
<text font-family="Liberation Sans" font-size="15.2" fill="#2a2a2a" text-anchor="middle" textLength="20.5" lengthAdjust="spacingAndGlyphs" transform="translate(231.5 596.3)">9.5</text>
<line x1="136.9" y1="615.7" x2="321.9" y2="615.7" stroke="#0a0a0a" stroke-width="1.15"/>
<polygon points="136.9,615.7 145.6,613.85 145.6,617.55" fill="#0a0a0a"/>
<polygon points="321.9,615.7 313.2,617.55 313.2,613.85" fill="#0a0a0a"/>
<text font-family="Liberation Sans" font-size="15.2" fill="#2a2a2a" text-anchor="middle" textLength="27" lengthAdjust="spacingAndGlyphs" transform="translate(229.6 613.1)">19.8</text>
<line x1="285.8" y1="584.8" x2="302.1" y2="584.8" stroke="#0a0a0a" stroke-width="1.15"/>
<polygon points="302.1,584.8 293.4,586.65 293.4,582.95" fill="#0a0a0a"/>
<line x1="307.4" y1="584.8" x2="348" y2="584.8" stroke="#0a0a0a" stroke-width="1.15"/>
<polygon points="307.4,584.8 316.1,582.95 316.1,586.65" fill="#0a0a0a"/>
<text font-family="Liberation Sans" font-size="15.2" fill="#2a2a2a" text-anchor="middle" textLength="19" lengthAdjust="spacingAndGlyphs" transform="translate(336 582.4)">0.6</text>
<text font-family="Liberation Serif" font-size="12.5" fill="#111" font-weight="bold" textLength="19.3" lengthAdjust="spacingAndGlyphs" stroke="#111" stroke-width="0.35" transform="translate(179.2 443.3)">SM3</text>
<text font-family="Liberation Serif" font-size="13" fill="#111" font-weight="bold" textLength="86" lengthAdjust="spacingAndGlyphs" transform="translate(200.4 452.2)">3A 125/250VAC</text>
<text font-family="Liberation Serif" font-size="13" fill="#111" font-weight="bold" textLength="4.6" lengthAdjust="spacingAndGlyphs" stroke="#111" stroke-width="0.3" transform="translate(148.3 521.6)">1</text>
<text font-family="Liberation Serif" font-size="13" fill="#111" font-weight="bold" textLength="6.2" lengthAdjust="spacingAndGlyphs" stroke="#111" stroke-width="0.3" transform="translate(229.8 521.9)">3</text>
<text font-family="Liberation Serif" font-size="13" fill="#111" font-weight="bold" textLength="6.2" lengthAdjust="spacingAndGlyphs" stroke="#111" stroke-width="0.3" transform="translate(311.2 522)">2</text>
<text font-family="Liberation Sans" font-size="9.8" fill="#0c0c0c" font-weight="bold" textLength="30" lengthAdjust="spacingAndGlyphs" stroke="#0c0c0c" stroke-width="0.25" transform="translate(218 507.3)">25T85u</text>
<path d="M191.4 461.6 A7.2 7.8 0 1 0 191.4 469.8 L189.4 468.6 L190.6 465.7 L189.4 462.8 Z" fill="#0c0c0c"/>
<path d="M188.6 462.4 A4.9 5.2 0 1 0 188.6 469" fill="none" stroke="#777" stroke-width="0.5"/>
<path d="M183.6 463.9 L186.6 463.9 M183.2 465.8 L187 465.8 M183.6 467.7 L186.6 467.7" fill="none" stroke="#666" stroke-width="0.45"/>
<path d="M213.60 459.58 A6.2 6.2 0 1 0 213.60 471.82" fill="none" stroke="#0c0c0c" stroke-width="2.9"/>
<path d="M222.50 459.55 A6.2 6.2 0 1 0 222.50 471.85 M216.6 465.7 L221.2 465.7" fill="none" stroke="#0c0c0c" stroke-width="2.9"/>
<g fill="none" stroke="#0c0c0c" stroke-width="3" stroke-linejoin="miter"><path d="M249.4 458.4 L253.6 473 M250 459.7 L245 459.7 Q241.4 459.9 242.2 463.2 Q243.2 465.9 246.6 465.8 L251.2 465.8 M247.6 465.9 L243.4 473"/><path d="M253.4 458.4 L256.7 470 Q257.3 472.1 259.6 472.1 L264.6 472.1 M258.8 458.4 L262.7 472.1"/></g>
<path fill-rule="evenodd" fill="#0c0c0c" d="M228.5 472.4 L212.6 492.4 L244.2 492.4 Z M228.5 476.6 L217.9 489.9 L239.1 489.9 Z"/>
<rect x="216.9" y="494.3" width="24" height="3.2" fill="none" stroke="#0c0c0c" stroke-width="1.3"/>
<g font-family="Liberation Sans" font-weight="bold" fill="#0c0c0c" stroke="#0c0c0c" stroke-width="0.3" font-size="10.6"><text transform="translate(226 485.6) scale(0.8 1)" font-size="9.6">V</text><text transform="translate(220.4 491.5) scale(0.85 1)">D</text><text transform="translate(230.4 491.5) scale(0.85 1)">E</text></g>
<line x1="462.4" y1="411" x2="462.4" y2="453" stroke="#0a0a0a" stroke-width="1.15"/>
<line x1="514.8" y1="411" x2="514.8" y2="453" stroke="#0a0a0a" stroke-width="1.15"/>
<line x1="462.4" y1="416.3" x2="514.8" y2="416.3" stroke="#0a0a0a" stroke-width="1.15"/>
<polygon points="462.4,416.3 471.1,414.45 471.1,418.15" fill="#0a0a0a"/>
<polygon points="514.8,416.3 506.1,418.15 506.1,414.45" fill="#0a0a0a"/>
<text font-family="Liberation Sans" font-size="15.2" fill="#2a2a2a" text-anchor="middle" textLength="20.5" lengthAdjust="spacingAndGlyphs" transform="translate(488.3 414.2)">5.6</text>
<line x1="472" y1="428.4" x2="472" y2="456" stroke="#0a0a0a" stroke-width="1.15"/>
<line x1="504.8" y1="428.4" x2="504.8" y2="456" stroke="#0a0a0a" stroke-width="1.15"/>
<line x1="472" y1="433.3" x2="504.8" y2="433.3" stroke="#0a0a0a" stroke-width="1.15"/>
<polygon points="472,433.3 479,431.45 479,435.15" fill="#0a0a0a"/>
<polygon points="504.8,433.3 497.8,435.15 497.8,431.45" fill="#0a0a0a"/>
<text font-family="Liberation Sans" font-size="15.2" fill="#2a2a2a" text-anchor="middle" textLength="20.5" lengthAdjust="spacingAndGlyphs" transform="translate(488.5 430.6)">3.5</text>
<line x1="472" y1="443.7" x2="504.8" y2="443.7" stroke="#0a0a0a" stroke-width="1.15"/>
<line x1="472" y1="449.5" x2="504.8" y2="449.5" stroke="#0a0a0a" stroke-width="1.15"/>
<line x1="462.4" y1="456" x2="514.8" y2="456" stroke="#0a0a0a" stroke-width="1.15"/>
<line x1="462.4" y1="456" x2="462.4" y2="551.4" stroke="#0a0a0a" stroke-width="1.15"/>
<line x1="514.8" y1="456" x2="514.8" y2="551.4" stroke="#0a0a0a" stroke-width="1.15"/>
<line x1="462.4" y1="551.4" x2="514.8" y2="551.4" stroke="#0a0a0a" stroke-width="1.15"/>
<polyline points="481,456 481,476.2 514.8,476.2" fill="none" stroke="#0a0a0a" stroke-width="1.15"/>
<polyline points="462.4,490.7 493.5,490.7 493.5,502.8 462.4,502.8" fill="none" stroke="#0a0a0a" stroke-width="1.15"/>
<line x1="471.4" y1="490.7" x2="471.4" y2="502.8" stroke="#0a0a0a" stroke-width="1.15"/>
<polyline points="462.4,506.4 458.4,506.4 458.4,622.5" fill="none" stroke="#0a0a0a" stroke-width="1.15"/>
<polyline points="514.8,506.4 518.7,506.4 518.7,555" fill="none" stroke="#0a0a0a" stroke-width="1.15"/>
<line x1="458.4" y1="555" x2="477.8" y2="555" stroke="#0a0a0a" stroke-width="1.15"/>
<polyline points="518.7,555 505.8,555" fill="none" stroke="#0a0a0a" stroke-width="1.15"/>
<polyline points="505.8,551.4 505.8,558.7 612.8,558.7" fill="none" stroke="#0a0a0a" stroke-width="1.15"/>
<polyline points="480.5,551.4 480.5,527 514.8,527" fill="none" stroke="#0a0a0a" stroke-width="1.15"/>
<polyline points="477.8,551.4 477.8,572.2 490,584.7 612.8,584.7" fill="none" stroke="#0a0a0a" stroke-width="1.15"/>
<line x1="514.8" y1="558.7" x2="514.8" y2="565.8" stroke="#0a0a0a" stroke-width="1.15"/>
<line x1="514.8" y1="578.4" x2="514.8" y2="584.7" stroke="#0a0a0a" stroke-width="1.15"/>
<line x1="514.8" y1="565.8" x2="594.8" y2="565.8" stroke="#0a0a0a" stroke-width="1.15"/>
<line x1="514.8" y1="578.4" x2="594.8" y2="578.4" stroke="#0a0a0a" stroke-width="1.15"/>
<line x1="518.7" y1="558.7" x2="518.7" y2="565.8" stroke="#0a0a0a" stroke-width="1.15"/>
<line x1="518.7" y1="578.4" x2="518.7" y2="622.5" stroke="#0a0a0a" stroke-width="1.15"/>
<line x1="514.8" y1="588.5" x2="514.8" y2="612.3" stroke="#0a0a0a" stroke-width="1.15"/>
<path d="M546 565.8 Q549.8 566.6 550.2 569.2 L550.2 575 Q549.8 577.6 546 578.4" fill="none" stroke="#0a0a0a" stroke-width="1.15"/>
<line x1="548.4" y1="568.2" x2="578.5" y2="568.2" stroke="#0a0a0a" stroke-width="1.15"/>
<line x1="548.4" y1="575.8" x2="578.5" y2="575.8" stroke="#0a0a0a" stroke-width="1.15"/>
<line x1="550.2" y1="575" x2="550.2" y2="612.4" stroke="#0a0a0a" stroke-width="1.15"/>
<line x1="469.6" y1="571.9" x2="563.2" y2="571.9" stroke="#0a0a0a" stroke-width="0.9" stroke-dasharray="9 2 1.5 2"/>
<circle cx="471.4" cy="543.9" r="1.7" fill="#0a0a0a" stroke="#0a0a0a" stroke-width="0"/>
<circle cx="506.3" cy="540" r="1.7" fill="#0a0a0a" stroke="#0a0a0a" stroke-width="0"/>
<circle cx="482.8" cy="566.4" r="1.7" fill="#0a0a0a" stroke="#0a0a0a" stroke-width="0"/>
<polyline points="471.4,543.9 452.3,567.1 434.6,567.1" fill="none" stroke="#0a0a0a" stroke-width="1.15"/>
<polyline points="482.8,566.4 456,598.8 438,598.8" fill="none" stroke="#0a0a0a" stroke-width="1.15"/>
<polyline points="506.3,540 539.8,514.7 554.3,514.7" fill="none" stroke="#0a0a0a" stroke-width="1.15"/>
<text font-family="Liberation Sans" font-size="15.2" fill="#2a2a2a" text-anchor="middle" transform="translate(561.3 513.8)">1</text>
<text font-family="Liberation Sans" font-size="15.2" fill="#2a2a2a" text-anchor="middle" transform="translate(434.6 599.2)">4</text>
<path d="M430.8 561.9 Q435.7 561 435.7 564.4 Q435.7 567.1 431 567.1 M430.8 571.3 L435.4 571.3" fill="none" stroke="#2a2a2a" stroke-width="1.0"/>
<line x1="458.4" y1="618.2" x2="518.7" y2="618.2" stroke="#0a0a0a" stroke-width="1.15"/>
<polygon points="458.4,618.2 467.1,616.35 467.1,620.05" fill="#0a0a0a"/>
<polygon points="518.7,618.2 510,620.05 510,616.35" fill="#0a0a0a"/>
<text font-family="Liberation Sans" font-size="15.2" fill="#2a2a2a" text-anchor="middle" textLength="20.5" lengthAdjust="spacingAndGlyphs" transform="translate(488.3 615.6)">6.4</text>
<line x1="514.8" y1="608.3" x2="583.2" y2="608.3" stroke="#0a0a0a" stroke-width="1.15"/>
<polygon points="514.8,608.3 523.5,606.45 523.5,610.15" fill="#0a0a0a"/>
<polygon points="550.2,608.3 541.5,610.15 541.5,606.45" fill="#0a0a0a"/>
<text font-family="Liberation Sans" font-size="15.2" fill="#2a2a2a" text-anchor="middle" textLength="20" lengthAdjust="spacingAndGlyphs" transform="translate(571 605.4)">3.8</text>
<line x1="573.5" y1="528" x2="573.5" y2="568.2" stroke="#0a0a0a" stroke-width="1.15"/>
<polygon points="573.5,568.2 571.65,559.5 575.35,559.5" fill="#0a0a0a"/>
<line x1="573.5" y1="575.8" x2="573.5" y2="591.2" stroke="#0a0a0a" stroke-width="1.15"/>
<polygon points="573.5,575.8 575.35,584.5 571.65,584.5" fill="#0a0a0a"/>
<text font-family="Liberation Sans" font-size="15.2" fill="#2a2a2a" text-anchor="middle" textLength="17.5" lengthAdjust="spacingAndGlyphs" transform="translate(570.4 540) rotate(-90)">0.8</text>
<line x1="590.3" y1="527" x2="590.3" y2="565.8" stroke="#0a0a0a" stroke-width="1.15"/>
<polygon points="590.3,565.8 588.45,557.1 592.15,557.1" fill="#0a0a0a"/>
<line x1="590.3" y1="578.4" x2="590.3" y2="594" stroke="#0a0a0a" stroke-width="1.15"/>
<polygon points="590.3,578.4 592.15,587.1 588.45,587.1" fill="#0a0a0a"/>
<text font-family="Liberation Sans" font-size="15.2" fill="#2a2a2a" text-anchor="middle" textLength="17.5" lengthAdjust="spacingAndGlyphs" transform="translate(587.5 540) rotate(-90)">1.3</text>
<line x1="608" y1="526" x2="608" y2="584.7" stroke="#0a0a0a" stroke-width="1.15"/>
<polygon points="608,558.7 609.85,567.4 606.15,567.4" fill="#0a0a0a"/>
<polygon points="608,584.7 606.15,576 609.85,576" fill="#0a0a0a"/>
<text font-family="Liberation Sans" font-size="15.2" fill="#2a2a2a" text-anchor="middle" textLength="20" lengthAdjust="spacingAndGlyphs" transform="translate(605 538) rotate(-90)">2.8</text>
<circle cx="459.3" cy="767.7" r="4.1" fill="#fff" stroke="#0a0a0a" stroke-width="1.1"/>
<line x1="459.3" y1="772" x2="459.3" y2="807.3" stroke="#0a0a0a" stroke-width="1.15"/>
<circle cx="497" cy="782" r="4.1" fill="#fff" stroke="#0a0a0a" stroke-width="1.1"/>
<line x1="497" y1="786.3" x2="497" y2="807.3" stroke="#0a0a0a" stroke-width="1.15"/>
<polyline points="536,807.3 536,736.8 497,736.8 497,750" fill="none" stroke="#0a0a0a" stroke-width="1.15"/>
<path d="M491.6 758.2 L491.6 753 A6 5.2 0 0 1 503.4 753 L505 757 Z" fill="#111" stroke="#0a0a0a" stroke-width="0"/>
<line x1="463.2" y1="765.9" x2="502" y2="755.2" stroke="#111" stroke-width="3.6"/>
<text font-family="Liberation Serif" font-size="12.5" fill="#111" font-weight="bold" textLength="16.2" lengthAdjust="spacingAndGlyphs" stroke="#111" stroke-width="0.3" transform="translate(451.6 820.2)">COM</text>
<text font-family="Liberation Serif" font-size="12.5" fill="#111" font-weight="bold" textLength="10.3" lengthAdjust="spacingAndGlyphs" stroke="#111" stroke-width="0.3" transform="translate(492.6 820.2)">NO</text>
<text font-family="Liberation Serif" font-size="12.5" fill="#111" font-weight="bold" textLength="10.5" lengthAdjust="spacingAndGlyphs" stroke="#111" stroke-width="0.3" transform="translate(530.6 820.2)">NC</text>
<text font-family="Liberation Serif" font-size="13.6" fill="#111" font-weight="bold" textLength="58.6" lengthAdjust="spacingAndGlyphs" stroke="#111" stroke-width="0.3" transform="translate(473.2 855.2)">SCHEMATIC</text>
</svg>
</body></html>
